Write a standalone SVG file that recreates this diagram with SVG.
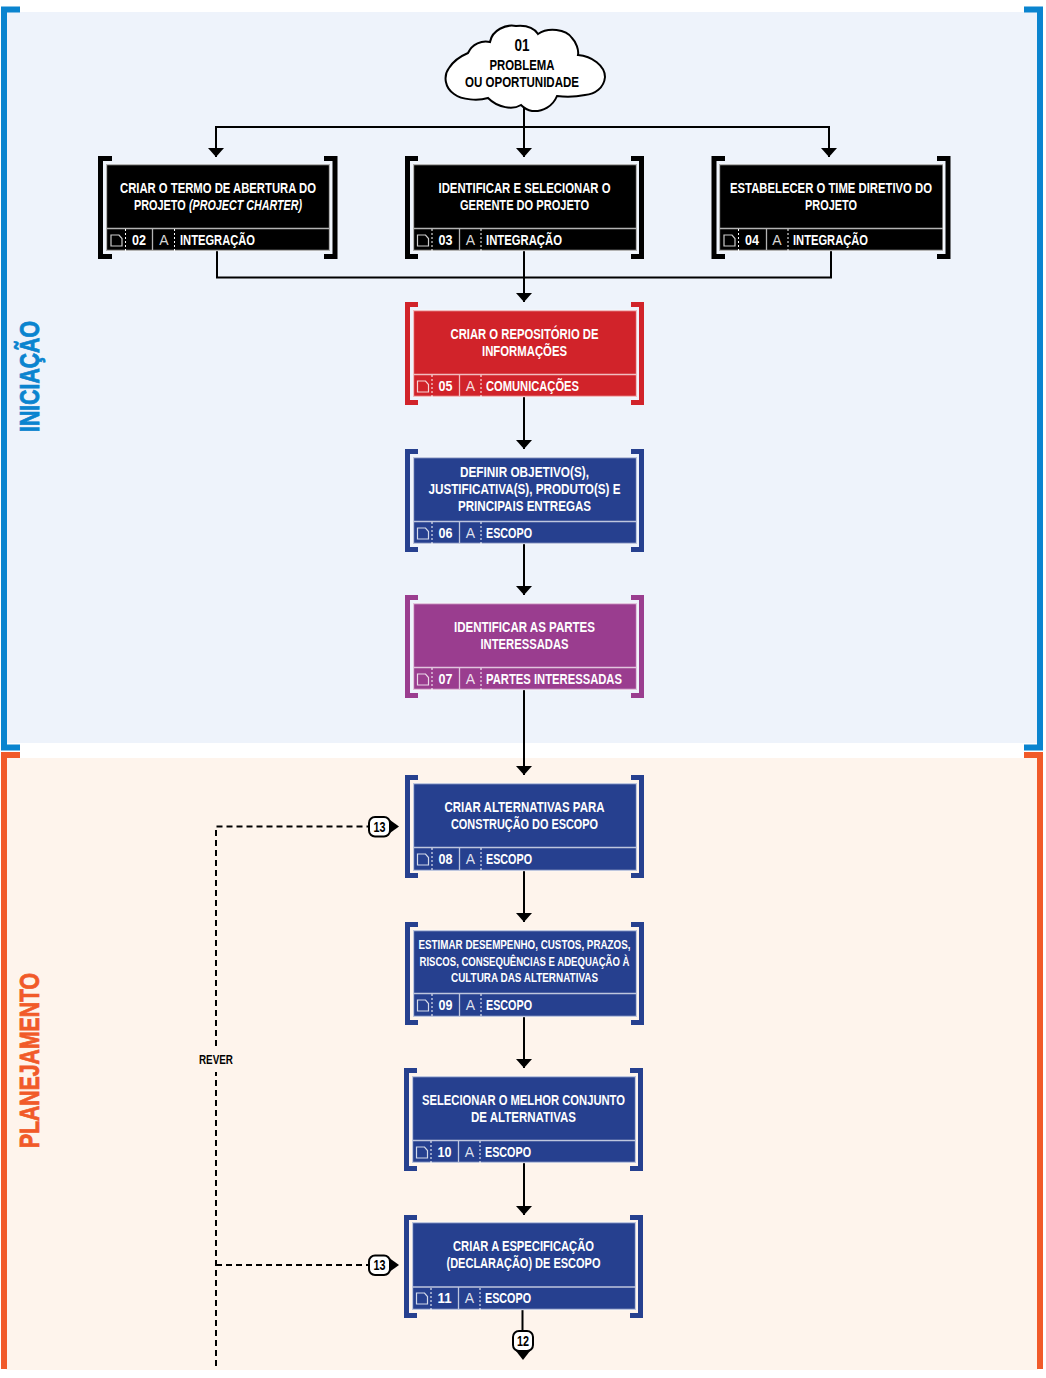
<svg xmlns="http://www.w3.org/2000/svg" width="1046" height="1378" viewBox="0 0 1046 1378">
<style>
text{font-family:"Liberation Sans",Arial,sans-serif;font-weight:700;fill:#fff;text-anchor:middle}
.t{font-size:14.500px}.s{font-size:13px}.f{font-size:14.500px}
.k{fill:#000}.r{fill:#d1232a}.b{fill:#26408f}.p{fill:#9a3d8f}
.bk{fill:none;stroke-width:5}
.l{fill:none;stroke:#fff;stroke-opacity:.7;stroke-width:1.300}
.d{fill:none;stroke:#fff;stroke-width:1;stroke-dasharray:2 2}
.ic{fill:none;stroke:#fff;stroke-opacity:.8;stroke-width:1.200}
.a{font-weight:400;font-size:14px;fill:#fff;fill-opacity:.85}
.c{fill:none;stroke:#000;stroke-width:2}
.dash{fill:none;stroke:#000;stroke-width:2;stroke-dasharray:6 4}
.dark{fill:#000}
.badge{fill:#fff;stroke:#000;stroke-width:2}
.ph{font-size:28px;text-anchor:start;stroke-width:.8}
</style>
<defs>
<path id="doc" d="M0 0H8L11 3.500V11H0Z"/>
<marker id="ah" markerUnits="userSpaceOnUse" markerWidth="10" markerHeight="16" refX="9" refY="8" orient="auto" viewBox="0 0 10 16"><path d="M0 0L9 8L0 16Z" fill="#000"/></marker>
</defs>

<rect x="6" y="12" width="1032" height="731" fill="#eef3fb"/>
<rect x="6" y="758" width="1032" height="612" fill="#fef4ec"/>
<g id="fase-iniciacao">
<path d="M20 9.500H4V747.500H20M1024 9.500H1040V747.500H1024" fill="none" stroke="#0a84cf" stroke-width="6"/>
<text class="ph" transform="translate(39 432) rotate(-90)" x="0" y="0" textLength="111" lengthAdjust="spacingAndGlyphs" style="fill:#0a84cf;stroke:#0a84cf">INICIAÇÃO</text>
</g>
<g id="fase-planejamento">
<path d="M20 755H4V1369M1024 755H1040V1369" fill="none" stroke="#f15a29" stroke-width="6"/>
<text class="ph" transform="translate(39 1148) rotate(-90)" x="0" y="0" textLength="175" lengthAdjust="spacingAndGlyphs" style="fill:#f15a29;stroke:#f15a29">PLANEJAMENTO</text>
</g>

<g id="conectores">
<path class="c" d="M524 108V127"/>
<path class="c" d="M216 157V127H829V157" marker-end="url(#ah)"/>
<path class="c" d="M216 127V157" marker-end="url(#ah)"/>
<path class="c" d="M524 127V157" marker-end="url(#ah)"/>
<path class="c" d="M217 251V277.500H831V251"/>
<path class="c" d="M524 251V302" marker-end="url(#ah)"/>
<path class="c" d="M524 397V449" marker-end="url(#ah)"/>
<path class="c" d="M524 544V595" marker-end="url(#ah)"/>
<path class="c" d="M524 690V775" marker-end="url(#ah)"/>
<path class="c" d="M524 871V922" marker-end="url(#ah)"/>
<path class="c" d="M524 1017V1068" marker-end="url(#ah)"/>
<path class="c" d="M524 1163V1215" marker-end="url(#ah)"/>
<path class="c" d="M522.500 1310V1330"/>
<path class="dash" d="M216 1366V826.500H368"/>
<path class="dash" d="M216 1265H368"/>
<rect x="197" y="1050" width="38" height="22" fill="#fef4ec"/>
<text x="216" y="1064" textLength="34" lengthAdjust="spacingAndGlyphs" style="font-size:12.500px;fill:#000">REVER</text>
</g>

<g id="n01">
<path d="M468 53C472 44 482 40 490 42C492 30 506 24 516 26C526 25 534 28 538 34C548 27 566 29 572 38C576 42 579 50 578 55C592 56 605 66 605 77C604 88 595 94 585 95C575 97 565 97 557 96C553 106 543 112 532 111C526 110 523 107 521 105C513 110 498 108 488 98C478 101 462 100 454 94C445 88 443 76 449 68C454 60 461 56 468 53Z" fill="#fff" stroke="#000" stroke-width="2"/>
<text x="522" y="51" style="font-size:16px;fill:#000" textLength="15" lengthAdjust="spacingAndGlyphs">01</text>
<text x="522" y="70" style="font-size:14.500px;fill:#000" textLength="65" lengthAdjust="spacingAndGlyphs">PROBLEMA</text>
<text x="522" y="87" style="font-size:14.500px;fill:#000" textLength="114" lengthAdjust="spacingAndGlyphs">OU OPORTUNIDADE</text>
</g>

<g id="n02">
<path d="M112 158.500H100.500V256.500H112M324 158.500H335V256.500H324" class="bk" stroke="#000"/>
<rect x="106" y="164" width="224" height="87" class="k"/>
<path class="l" d="M106.500 164.500H329.500V250.500H106.500ZM106.500 228.500H329.500M152.500 228.500V250.500"/>
<path class="d" d="M125.500 229V251M174.500 229V251"/>
<use href="#doc" x="111" y="235" class="ic"/>
<text class="t" x="218" y="193" textLength="196" lengthAdjust="spacingAndGlyphs">CRIAR O TERMO DE ABERTURA DO</text>
<text class="t" transform="translate(134 210) scale(.75 1)" style="text-anchor:start">PROJETO</text>
<text class="t" transform="translate(189 210) scale(.74 1)" font-style="italic" style="text-anchor:start">(PROJECT CHARTER)</text>
<text class="f" x="139" y="245" textLength="14" lengthAdjust="spacingAndGlyphs">02</text>
<text class="a" x="164" y="245">A</text>
<text class="f" x="180" y="245" textLength="75" lengthAdjust="spacingAndGlyphs" style="text-anchor:start">INTEGRAÇÃO</text>
</g>

<g id="n03">
<path d="M418 158.500H407.500V256.500H418M631 158.500H641.500V256.500H631" class="bk" stroke="#000"/>
<rect x="413" y="164" width="224" height="87" class="k"/>
<path class="l" d="M413.500 164.500H636.500V250.500H413.500ZM413.500 228.500H636.500M459.500 228.500V250.500"/>
<path class="d" d="M432 229V251M481 229V251"/>
<use href="#doc" x="417.500" y="235" class="ic"/>
<text class="t" x="524.500" y="193" textLength="172" lengthAdjust="spacingAndGlyphs">IDENTIFICAR E SELECIONAR O</text>
<text class="t" x="524.500" y="210" textLength="129" lengthAdjust="spacingAndGlyphs">GERENTE DO PROJETO</text>
<text class="f" x="445.500" y="245" textLength="14" lengthAdjust="spacingAndGlyphs">03</text>
<text class="a" x="470.500" y="245">A</text>
<text class="f" x="486" y="245" textLength="76" lengthAdjust="spacingAndGlyphs" style="text-anchor:start">INTEGRAÇÃO</text>
</g>

<g id="n04">
<path d="M725 158.500H714V256.500H725M937 158.500H948V256.500H937" class="bk" stroke="#000"/>
<rect x="719" y="164" width="224" height="87" class="k"/>
<path class="l" d="M719.500 164.500H943V250.500H719.500ZM719.500 228.500H943M766.500 228.500V250.500"/>
<path class="d" d="M738.500 229V251M788 229V251"/>
<use href="#doc" x="724" y="235" class="ic"/>
<text class="t" x="831" y="193" textLength="202" lengthAdjust="spacingAndGlyphs">ESTABELECER O TIME DIRETIVO DO</text>
<text class="t" x="831" y="210" textLength="52" lengthAdjust="spacingAndGlyphs">PROJETO</text>
<text class="f" x="752" y="245" textLength="14" lengthAdjust="spacingAndGlyphs">04</text>
<text class="a" x="777" y="245">A</text>
<text class="f" x="793" y="245" textLength="75" lengthAdjust="spacingAndGlyphs" style="text-anchor:start">INTEGRAÇÃO</text>
</g>

<g id="n05">
<path d="M418 304.500H407.500V402.500H418M631 304.500H641.500V402.500H631" class="bk" stroke="#d1232a"/>
<rect x="413" y="310" width="224" height="87" class="r"/>
<path class="l" d="M413.500 310.500H636.500V396.500H413.500ZM413.500 374.500H636.500M459.500 374.500V396.500"/>
<path class="d" d="M432 375V397M481 375V397"/>
<use href="#doc" x="417.500" y="381" class="ic"/>
<text class="t" x="524.500" y="339" textLength="148" lengthAdjust="spacingAndGlyphs">CRIAR O REPOSITÓRIO DE</text>
<text class="t" x="524.500" y="356" textLength="85" lengthAdjust="spacingAndGlyphs">INFORMAÇÕES</text>
<text class="f" x="445.500" y="391" textLength="14" lengthAdjust="spacingAndGlyphs">05</text>
<text class="a" x="470.500" y="391">A</text>
<text class="f" x="486" y="391" textLength="93" lengthAdjust="spacingAndGlyphs" style="text-anchor:start">COMUNICAÇÕES</text>
</g>

<g id="n06">
<path d="M418 451.500H407.500V549.500H418M631 451.500H641.500V549.500H631" class="bk" stroke="#26408f"/>
<rect x="413" y="457" width="224" height="87" class="b"/>
<path class="l" d="M413.500 457.500H636.500V543.500H413.500ZM413.500 521.500H636.500M459.500 521.500V543.500"/>
<path class="d" d="M432 522V544M481 522V544"/>
<use href="#doc" x="417.500" y="528" class="ic"/>
<text class="t" x="524.500" y="477" textLength="129" lengthAdjust="spacingAndGlyphs">DEFINIR OBJETIVO(S),</text>
<text class="t" x="524.500" y="494" textLength="192" lengthAdjust="spacingAndGlyphs">JUSTIFICATIVA(S), PRODUTO(S) E</text>
<text class="t" x="524.500" y="511" textLength="133" lengthAdjust="spacingAndGlyphs">PRINCIPAIS ENTREGAS</text>
<text class="f" x="445.500" y="538" textLength="14" lengthAdjust="spacingAndGlyphs">06</text>
<text class="a" x="470.500" y="538">A</text>
<text class="f" x="486" y="538" textLength="46" lengthAdjust="spacingAndGlyphs" style="text-anchor:start">ESCOPO</text>
</g>

<g id="n07">
<path d="M418 597.500H407.500V695.500H418M631 597.500H641.500V695.500H631" class="bk" stroke="#9a3d8f"/>
<rect x="413" y="603" width="224" height="87" class="p"/>
<path class="l" d="M413.500 603.500H636.500V689.500H413.500ZM413.500 667.500H636.500M459.500 667.500V689.500"/>
<path class="d" d="M432 668V690M481 668V690"/>
<use href="#doc" x="417.500" y="674" class="ic"/>
<text class="t" x="524.500" y="632" textLength="141" lengthAdjust="spacingAndGlyphs">IDENTIFICAR AS PARTES</text>
<text class="t" x="524.500" y="649" textLength="88" lengthAdjust="spacingAndGlyphs">INTERESSADAS</text>
<text class="f" x="445.500" y="684" textLength="14" lengthAdjust="spacingAndGlyphs">07</text>
<text class="a" x="470.500" y="684">A</text>
<text class="f" x="486" y="684" textLength="136" lengthAdjust="spacingAndGlyphs" style="text-anchor:start">PARTES INTERESSADAS</text>
</g>

<g id="n08">
<path d="M418 777.500H407.500V875.500H418M631 777.500H641.500V875.500H631" class="bk" stroke="#26408f"/>
<rect x="413" y="783" width="224" height="88" class="b"/>
<path class="l" d="M413.500 783.500H636.500V870.500H413.500ZM413.500 847.500H636.500M459.500 847.500V870.500"/>
<path class="d" d="M432 848V870M481 848V870"/>
<use href="#doc" x="417.500" y="854" class="ic"/>
<text class="t" x="524.500" y="812" textLength="160" lengthAdjust="spacingAndGlyphs">CRIAR ALTERNATIVAS PARA</text>
<text class="t" x="524.500" y="829" textLength="147" lengthAdjust="spacingAndGlyphs">CONSTRUÇÃO DO ESCOPO</text>
<text class="f" x="445.500" y="864" textLength="14" lengthAdjust="spacingAndGlyphs">08</text>
<text class="a" x="470.500" y="864">A</text>
<text class="f" x="486" y="864" textLength="46" lengthAdjust="spacingAndGlyphs" style="text-anchor:start">ESCOPO</text>
</g>

<g id="n09">
<path d="M418 924.500H407.500V1022.500H418M631 924.500H641.500V1022.500H631" class="bk" stroke="#26408f"/>
<rect x="413" y="930" width="224" height="87" class="b"/>
<path class="l" d="M413.500 930.500H636.500V1016.500H413.500ZM413.500 993.500H636.500M459.500 993.500V1016.500"/>
<path class="d" d="M432 994V1017M481 994V1017"/>
<use href="#doc" x="417.500" y="1000" class="ic"/>
<text class="s" x="524.500" y="949" textLength="212" lengthAdjust="spacingAndGlyphs">ESTIMAR DESEMPENHO, CUSTOS, PRAZOS,</text>
<text class="s" x="524.500" y="966" textLength="210" lengthAdjust="spacingAndGlyphs">RISCOS, CONSEQUÊNCIAS E ADEQUAÇÃO À</text>
<text class="s" x="524.500" y="982" textLength="147" lengthAdjust="spacingAndGlyphs">CULTURA DAS ALTERNATIVAS</text>
<text class="f" x="445.500" y="1010" textLength="14" lengthAdjust="spacingAndGlyphs">09</text>
<text class="a" x="470.500" y="1010">A</text>
<text class="f" x="486" y="1010" textLength="46" lengthAdjust="spacingAndGlyphs" style="text-anchor:start">ESCOPO</text>
</g>

<g id="n10">
<path d="M417 1070.500H406.500V1168.500H417M630 1070.500H640.500V1168.500H630" class="bk" stroke="#26408f"/>
<rect x="412" y="1076" width="224" height="87" class="b"/>
<path class="l" d="M412.500 1076.500H635.500V1162.500H412.500ZM412.500 1140.500H635.500M458.500 1140.500V1162.500"/>
<path class="d" d="M431 1141V1163M480 1141V1163"/>
<use href="#doc" x="416.500" y="1147" class="ic"/>
<text class="t" x="523.500" y="1105" textLength="203" lengthAdjust="spacingAndGlyphs">SELECIONAR O MELHOR CONJUNTO</text>
<text class="t" x="523.500" y="1122" textLength="105" lengthAdjust="spacingAndGlyphs">DE ALTERNATIVAS</text>
<text class="f" x="444.500" y="1157" textLength="14" lengthAdjust="spacingAndGlyphs">10</text>
<text class="a" x="469.500" y="1157">A</text>
<text class="f" x="485" y="1157" textLength="46" lengthAdjust="spacingAndGlyphs" style="text-anchor:start">ESCOPO</text>
</g>

<g id="n11">
<path d="M417 1217.500H406.500V1315.500H417M630 1217.500H640.500V1315.500H630" class="bk" stroke="#26408f"/>
<rect x="412" y="1222" width="224" height="88" class="b"/>
<path class="l" d="M412.500 1222.500H635.500V1309.500H412.500ZM412.500 1287H635.500M458.500 1287V1309.500"/>
<path class="d" d="M431 1288V1310M480 1288V1310"/>
<use href="#doc" x="416.500" y="1293" class="ic"/>
<text class="t" x="523.500" y="1251" textLength="141" lengthAdjust="spacingAndGlyphs">CRIAR A ESPECIFICAÇÃO</text>
<text class="t" x="523.500" y="1268" textLength="154" lengthAdjust="spacingAndGlyphs">(DECLARAÇÃO) DE ESCOPO</text>
<text class="f" x="444.500" y="1303" textLength="14" lengthAdjust="spacingAndGlyphs">11</text>
<text class="a" x="469.500" y="1303">A</text>
<text class="f" x="485" y="1303" textLength="46" lengthAdjust="spacingAndGlyphs" style="text-anchor:start">ESCOPO</text>
</g>

<g id="ref13a">
<path d="M399 826.500L390 820V833Z" class="dark"/>
<rect x="369" y="817" width="21" height="19.500" rx="6" class="badge"/>
<text x="379.500" y="831.500" style="font-size:14px;fill:#000" textLength="12" lengthAdjust="spacingAndGlyphs">13</text>
</g>
<g id="ref13b">
<path d="M399 1265L390 1258.500V1271.500Z" class="dark"/>
<rect x="369" y="1255.500" width="21" height="19.500" rx="6" class="badge"/>
<text x="379.500" y="1270" style="font-size:14px;fill:#000" textLength="12" lengthAdjust="spacingAndGlyphs">13</text>
</g>
<g id="ref12">
<path d="M516 1351L523 1360L530 1351Z" class="dark"/>
<rect x="513" y="1331" width="20" height="20" rx="6" class="badge"/>
<text x="523" y="1346" style="font-size:14px;fill:#000" textLength="12" lengthAdjust="spacingAndGlyphs">12</text>
</g>
</svg>
